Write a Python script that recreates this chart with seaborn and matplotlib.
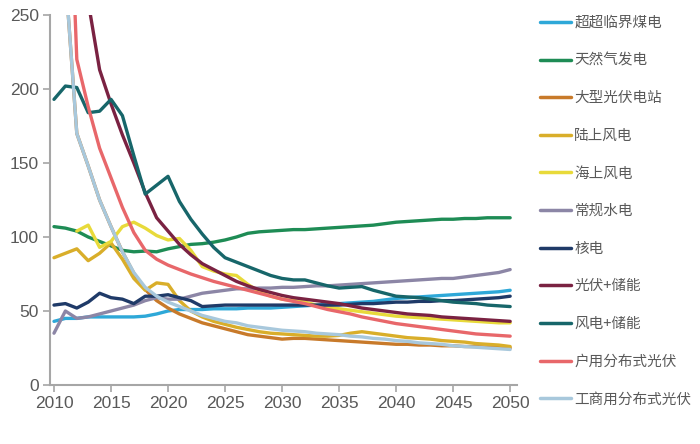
import numpy as np
import pandas as pd
import matplotlib
matplotlib.use("Agg")
import matplotlib.pyplot as plt
import seaborn as sns

years = list(range(2010, 2051))

names = ["超超临界煤电", "天然气发电", "大型光伏电站", "陆上风电", "海上风电", "常规水电",
         "核电", "光伏+储能", "风电+储能", "户用分布式光伏", "工商用分布式光伏"]
colors = ["#2EA8D8", "#1E8C55", "#C87A2A", "#D9AE2A", "#E8DA3A", "#8C86A6",
          "#1F3A68", "#7A2242", "#17666A", "#E8676A", "#A8C8DC"]

coal = [43, 45, 45, 46, 46, 46, 46, 46, 46.5, 48, 50, 51, 51, 51, 51.5, 51.5, 51.5, 52, 52, 52, 52.5,
        53, 53.5, 54, 54.5, 55, 55.5, 56, 56.5, 57.5, 58.5, 59, 59.5, 60, 60.5, 61, 61.5, 62, 62.5, 63, 64]
gas = [107, 106, 104, 100, 97, 94, 91, 90, 90.5, 90, 92, 93.5, 95, 95.5, 96.5, 98, 100, 102.5, 103.5, 104, 104.5,
       105, 105, 105.5, 106, 106.5, 107, 107.5, 108, 109, 110, 110.5, 111, 111.5, 112, 112, 112.5, 112.5, 113, 113, 113]
pv_station = [400, 277, 170, 148, 125, 107, 90, 75.5, 64.5, 57, 52, 48, 45, 42, 40, 38, 36, 34, 33, 32, 31,
              31.5, 31.5, 31, 30.5, 30, 29.5, 29, 28.5, 28, 27.5, 27.5, 27, 27, 26.5, 26.5, 26, 26, 25.5, 25.5, 25]
wind_on = [86, 89, 92, 84, 89, 96, 85, 72, 64, 69, 68, 57, 50, 46, 43, 41, 39, 37.5, 36, 35, 34.5,
           34, 33.5, 33, 33, 33.5, 35, 36, 35, 34, 33, 32, 31.5, 31, 30, 29.5, 29, 28, 27.5, 27, 26]
wind_off = [np.nan, np.nan, 104, 108, 93, 97, 107, 110, 106, 101, 98, 99, 91, 80, 77, 75, 74, 68, 63, 60, 58,
            57, 56, 54, 52.5, 51.5, 50.5, 49.5, 48.5, 47.5, 46.5, 46, 45.5, 45, 44.5, 44, 43.5, 43, 42.5, 42, 42]
hydro = [35, 50, 45, 46, 48, 50, 52, 54, 57, 59, 58, 58, 60, 62, 63, 64, 65, 65, 65.5, 65.5, 66,
         66, 66.5, 67, 67, 67.5, 68, 68.5, 69, 69.5, 70, 70.5, 71, 71.5, 72, 72, 73, 74, 75, 76, 78]
nuclear = [54, 55, 52, 56, 62, 59, 58, 55, 60, 60, 61, 59, 57, 53, 53.5, 54, 54, 54, 54, 54, 54,
           54, 54, 54, 54, 54, 54.5, 55, 55, 55.5, 56, 56, 56.5, 56.5, 57, 57, 57.5, 58, 58.5, 59, 60]
pv_storage = [520, 420, 330, 259, 213, 190, 169, 150, 130, 113, 104, 95, 88, 82, 78, 74, 70, 67, 64.5, 62.5, 60.5,
              59, 58, 57, 56, 55, 53.5, 52, 51, 50, 49, 48, 47.5, 47, 46, 45.5, 45, 44.5, 44, 43.5, 43]
wind_storage = [193, 202, 201, 184, 185, 193, 182, 155, 129, 135, 141, 124, 112, 102, 93, 86, 83, 80, 77, 74, 72,
                71, 71, 69, 67, 65.5, 66, 66.5, 64, 62, 60, 59.5, 59, 58, 57, 56, 55.5, 55, 54, 53.5, 53]
dpv_home = [600, 420, 220, 188, 160, 140, 120, 103, 91, 85, 81, 78, 75, 72.5, 70, 68, 66, 64, 62, 60, 58,
            56.5, 55, 53, 51, 49.5, 48, 46, 44.5, 43, 41.5, 40.5, 39.5, 38.5, 37.5, 36.5, 35.5, 34.5, 34, 33.5, 33]
dpv_ci = [400, 277, 170, 148, 125, 107, 90, 76, 66, 60, 56, 53, 50, 47, 45, 43, 42, 40, 39, 38, 37,
          36.5, 36, 35, 34.5, 34, 33, 32.5, 31.5, 31, 30, 29.5, 28.5, 28, 27.5, 26.5, 26, 25.5, 25, 24.5, 24]

series = [coal, gas, pv_station, wind_on, wind_off, hydro, nuclear, pv_storage, wind_storage, dpv_home, dpv_ci]

df = pd.concat([pd.DataFrame({"year": years, "value": s, "type": n}) for n, s in zip(names, series)],
               ignore_index=True)

sns.set_theme(style="white")
plt.rcParams["font.family"] = ["Liberation Sans", "Noto Sans CJK SC", "DejaVu Sans"]

fig = plt.figure(figsize=(7, 4.44), dpi=100)
ax = fig.add_axes([50 / 700, 1 - 385 / 444, 467 / 700, 370 / 444])

sns.lineplot(data=df, x="year", y="value", hue="type", hue_order=names, palette=colors,
             linewidth=2.4, ax=ax, legend=True, estimator=None)

ax.set_xlim(2009.65, 2050.6)
ax.set_ylim(0, 250)
ax.set_xticks(range(2010, 2051, 5))
ax.set_yticks(range(0, 251, 50))
ax.set_xlabel("")
ax.set_ylabel("")
for side in ["top", "right"]:
    ax.spines[side].set_visible(False)
for side in ["left", "bottom"]:
    ax.spines[side].set_color("#A6A6A6")
    ax.spines[side].set_linewidth(1.5)
ax.tick_params(axis="both", which="major", length=5, width=1.2, color="#A6A6A6",
               labelsize=12.5, labelcolor="#595959", direction="out", bottom=True, left=True, pad=3)
ax.grid(False)

handles, labels = ax.get_legend_handles_labels()
ax.get_legend().remove()
for h in handles:
    h.set_linewidth(2.5)
leg = fig.legend(handles, labels, loc="upper left", bbox_to_anchor=(540 / 700, 1 - 16 / 444),
                 frameon=False, borderaxespad=0, borderpad=0, handlelength=2.1, handletextpad=0.25,
                 labelspacing=1.62, prop={"family": ["Noto Sans CJK SC", "DejaVu Sans"], "size": 10.5})
for t in leg.get_texts():
    t.set_color("#595959")

fig.savefig("out.png", dpi=100, facecolor="white")
